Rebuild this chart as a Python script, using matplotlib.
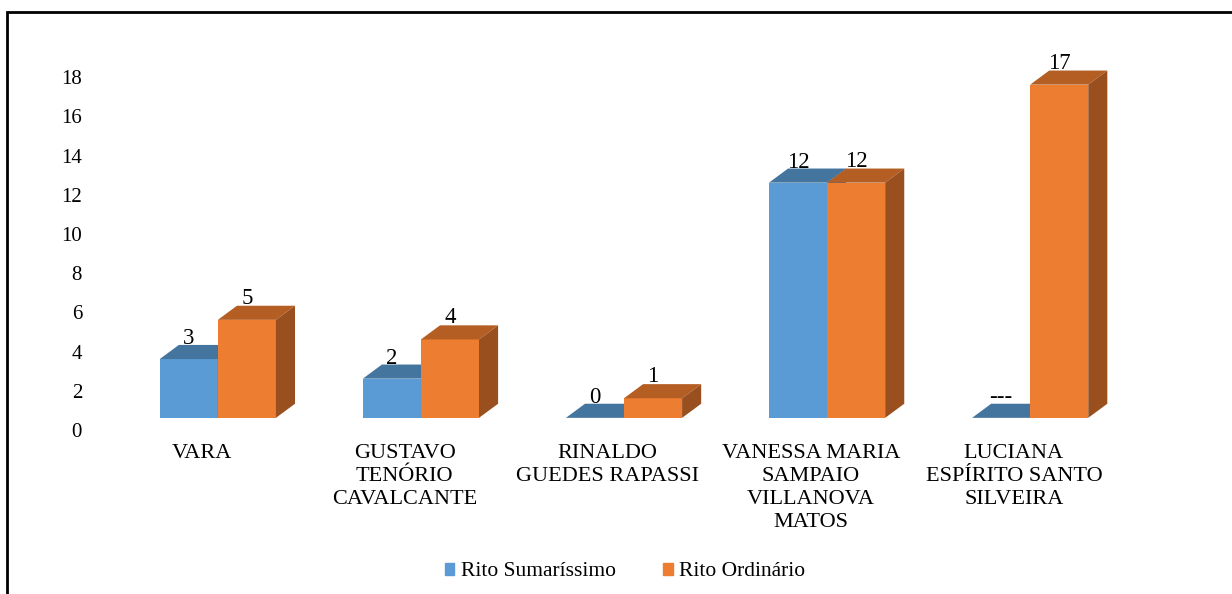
import numpy as np
import matplotlib
matplotlib.use('Agg')
import matplotlib.pyplot as plt
from matplotlib.patches import Polygon, Rectangle, Patch

plt.rcParams['font.family'] = ['Liberation Serif', 'DejaVu Serif']

# dados
categorias = ["VARA",
              "GUSTAVO\nTENÓRIO\nCAVALCANTE",
              "RINALDO\nGUEDES RAPASSI",
              "VANESSA MARIA\nSAMPAIO\nVILLANOVA\nMATOS",
              "LUCIANA\nESPÍRITO SANTO\nSILVEIRA"]
rito_sumarissimo = [3, 2, 0, 12, 0]
rito_ordinario = [5, 4, 1, 12, 17]
rotulos_sumarissimo = ["3", "2", "0", "12", "---"]
rotulos_ordinario = ["5", "4", "1", "12", "17"]
series = ["Rito Sumaríssimo", "Rito Ordinário"]

# cores (frente, topo, lado)
cores_azul = ("#5B9BD5", "#44759F", "#3E6A93")
cores_laranja = ("#ED7D31", "#B55E23", "#9A4F1E")

# "efeito 3D"
largura = 0.286
base = 0.62    # queda da face frontal
dx = 0.094     # profundidade em x
dy = 0.72      # profundidade em y

fig = plt.figure(figsize=(12.32, 5.94), dpi=100)
ax = fig.add_axes([96 / 1232, (594 - 430) / 594, (1152 - 96) / 1232, 19 * 19.6 / 594])

x = np.arange(len(categorias))


def barra_3d(xe, valor, cores, z):
    frente, topo, lado = cores
    topo_y = base + valor
    ax.bar(xe, valor, width=largura, bottom=base, align='edge',
           color=frente, zorder=z, linewidth=0)
    ax.add_patch(Polygon([(xe, topo_y), (xe + dx, topo_y + dy),
                          (xe + largura + dx, topo_y + dy), (xe + largura, topo_y)],
                         closed=True, facecolor=topo, edgecolor='none', zorder=z))
    ax.add_patch(Polygon([(xe + largura, base), (xe + largura + dx, base + dy),
                          (xe + largura + dx, topo_y + dy), (xe + largura, topo_y)],
                         closed=True, facecolor=lado, edgecolor='none', zorder=z))


for i in range(len(categorias)):
    barra_3d(x[i] - largura, rito_sumarissimo[i], cores_azul, 2)
    barra_3d(x[i], rito_ordinario[i], cores_laranja, 3)
    ax.text(x[i] - largura / 2, base + rito_sumarissimo[i] + dy + 0.05,
            rotulos_sumarissimo[i], ha='center', va='baseline', fontsize=16.5, zorder=5)
    ax.text(x[i] + largura / 2, base + rito_ordinario[i] + dy + 0.1,
            rotulos_ordinario[i], ha='center', va='baseline', fontsize=16.5, zorder=5)

ax.set_xlim(-0.6, 4.6)
ax.set_ylim(0, 19)
ax.set_yticks(range(0, 19, 2))
ax.set_xticks(x - 0.08, categorias, fontsize=16, linespacing=1.3, va='top')
ax.tick_params(axis='y', length=0, pad=10, labelsize=15)
ax.tick_params(axis='x', length=0, pad=10)
for s in ax.spines.values():
    s.set_visible(False)

handles = [Patch(color=cores_azul[0]), Patch(color=cores_laranja[0])]
fig.legend(handles, series, loc='center', bbox_to_anchor=(625 / 1232, 1 - 572 / 594),
           ncol=2, frameon=False, fontsize=15.5, handlelength=0.45, handleheight=0.45,
           handletextpad=0.3, columnspacing=2.2)

# moldura
fig.patches.append(Rectangle((7 / 1232, -0.05), 1.1, 1 - 12 / 594 + 0.05,
                             transform=fig.transFigure, fill=False,
                             edgecolor='black', linewidth=2))

fig.savefig("out.png", dpi=100)
